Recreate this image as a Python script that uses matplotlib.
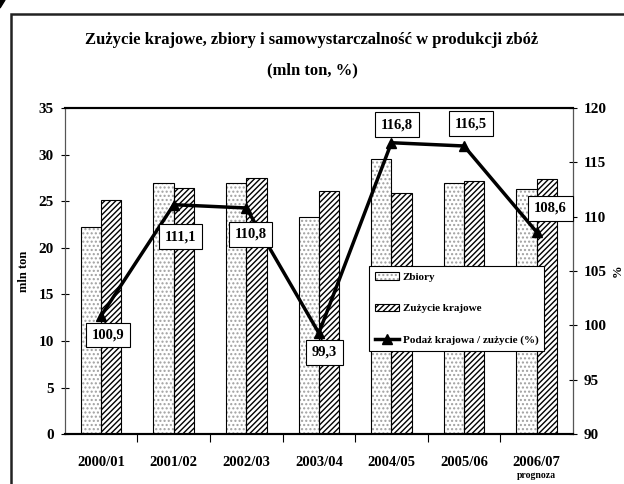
import numpy as np
import matplotlib
matplotlib.use('Agg')
import matplotlib.pyplot as plt
from matplotlib.patches import Patch, Rectangle, Polygon
from matplotlib.lines import Line2D
from matplotlib.legend_handler import HandlerTuple
import matplotlib.transforms as mtransforms

# data
seasons = ['2000/01', '2001/02', '2002/03', '2003/04', '2004/05', '2005/06', '2006/07']
zbiory = [22.2, 26.9, 26.9, 23.3, 29.5, 26.9, 26.3]
zuzycie = [25.1, 26.4, 27.5, 26.1, 25.9, 27.2, 27.4]
podaz_pct = [100.9, 111.1, 110.8, 99.3, 116.8, 116.5, 108.6]
pct_labels = ['100,9', '111,1', '110,8', '99,3', '116,8', '116,5', '108,6']

# where the value boxes sit relative to their points (points)
label_offsets = [(5, -14), (5, -23), (3, -19), (4, -14), (4, 13), (5, 16), (10, 17)]

plt.rcParams['font.family'] = ['Liberation Serif', 'DejaVu Serif']
plt.rcParams['font.weight'] = 'bold'
plt.rcParams['hatch.linewidth'] = 1.0

fig = plt.figure(figsize=(6.24, 4.84), dpi=100)
ax = fig.add_axes([0.104, 0.103, 0.814, 0.674])
ax2 = ax.twinx()

x = np.arange(len(seasons))
w = 0.28

# Zbiory - dotted, light
ax.bar(x - w / 2, zbiory, w, facecolor='white', edgecolor='#a0a0a0', hatch='....', linewidth=0, zorder=2)
ax.bar(x - w / 2, zbiory, w, fill=False, edgecolor='black', linewidth=0.8, zorder=3)
# Zuzycie krajowe - diagonal hatch
ax.bar(x + w / 2, zuzycie, w, facecolor='white', edgecolor='black', hatch='//////', linewidth=0.8, zorder=2)

ax.set_xlim(-0.5, len(seasons) - 0.5)
ax.set_ylim(0, 35)
ax.set_yticks(np.arange(0, 36, 5))
ax.set_xticks(x)
ax.set_xticklabels(seasons, fontsize=10.5, fontweight='bold')
ax.set_xticks(np.arange(0.5, len(seasons) - 1, 1), minor=True)
ax.tick_params(axis='x', which='major', length=0, pad=16)
ax.tick_params(axis='x', which='minor', length=6, direction='out', width=0.8)
ax.tick_params(axis='y', direction='inout', length=6, width=0.8, pad=5, labelsize=11)

# prognoza note under the last season
trans = mtransforms.blended_transform_factory(ax.transData, ax.transAxes)
ax.annotate('prognoza', xy=(x[-1], 0), xycoords=trans, xytext=(0, -30),
            textcoords='offset points', ha='center', va='center', fontsize=7, fontweight='bold')

ax.set_ylabel('mln ton', fontsize=9, fontweight='bold')
ax.yaxis.set_label_coords(-0.069, 0.5)

# Podaz / zuzycie line on the right axis
ax2.plot(x, podaz_pct, color='black', linewidth=2.5, marker='^', markersize=7, zorder=4)
ax2.set_ylim(90, 120)
ax2.set_yticks(np.arange(90, 121, 5))
ax2.tick_params(axis='y', direction='inout', length=6, width=0.8, pad=5, labelsize=11)
ax2.set_ylabel('%', fontsize=9, fontweight='bold', rotation=90)
ax2.yaxis.set_label_coords(1.077, 0.5)

for xi, yi, lab, off in zip(x, podaz_pct, pct_labels, label_offsets):
    ax2.annotate(lab, xy=(xi, yi), xytext=off, textcoords='offset points',
                 ha='center', va='center', fontsize=10.5, fontweight='bold', zorder=5,
                 bbox=dict(boxstyle='square,pad=0.4', facecolor='white', edgecolor='black', linewidth=0.8))

# spines
ax.spines['top'].set_linewidth(1.5)
ax.spines['bottom'].set_linewidth(1.5)
ax.spines['left'].set_color('#555555')
ax2.spines['top'].set_linewidth(1.5)
ax2.spines['bottom'].set_linewidth(1.5)
ax2.spines['left'].set_color('#555555')
ax2.spines['right'].set_color('#555555')
ax.set_zorder(1)
ax2.set_zorder(2)
ax2.patch.set_visible(False)

# legend
h_zb = (Patch(facecolor='white', edgecolor='#a0a0a0', hatch='....', linewidth=0),
        Patch(fill=False, edgecolor='black', linewidth=0.8))
h_zu = Patch(facecolor='white', edgecolor='black', hatch='//////', linewidth=0.8)
h_line = Line2D([], [], color='black', linewidth=2.5, marker='^', markersize=7)
leg = ax2.legend([h_zb, h_zu, h_line], ['Zbiory', 'Zużycie krajowe', 'Podaż krajowa / zużycie (%)'],
                 handler_map={tuple: HandlerTuple(ndivide=1, pad=0)},
                 loc='upper left', bbox_to_anchor=(0.598, 0.515), fancybox=False, framealpha=1,
                 edgecolor='black', prop={'size': 8, 'weight': 'bold'}, labelspacing=1.95,
                 handlelength=2.2, handletextpad=0.3, borderpad=0.55, borderaxespad=0)
leg.get_frame().set_linewidth(0.8)
leg.set_zorder(6)

# titles
fig.text(0.5, 0.917, 'Zużycie krajowe, zbiory i samowystarczalność w produkcji zbóż',
         ha='center', va='center', fontsize=12, fontweight='bold')
fig.text(0.5, 0.855, '(mln ton, %)', ha='center', va='center', fontsize=12, fontweight='bold')

# outer frame and scanned corner mark
fig.patches.append(Rectangle((11 / 624, -0.05), 1.2, 1 - 14 / 484 + 0.05, transform=fig.transFigure,
                             fill=False, edgecolor='#222222', linewidth=1.8))
fig.patches.append(Polygon([(0, 1), (5 / 624, 1), (0, 1 - 8 / 484)], closed=True,
                           transform=fig.transFigure, facecolor='black', edgecolor='black'))

fig.savefig('out.png', dpi=100)
